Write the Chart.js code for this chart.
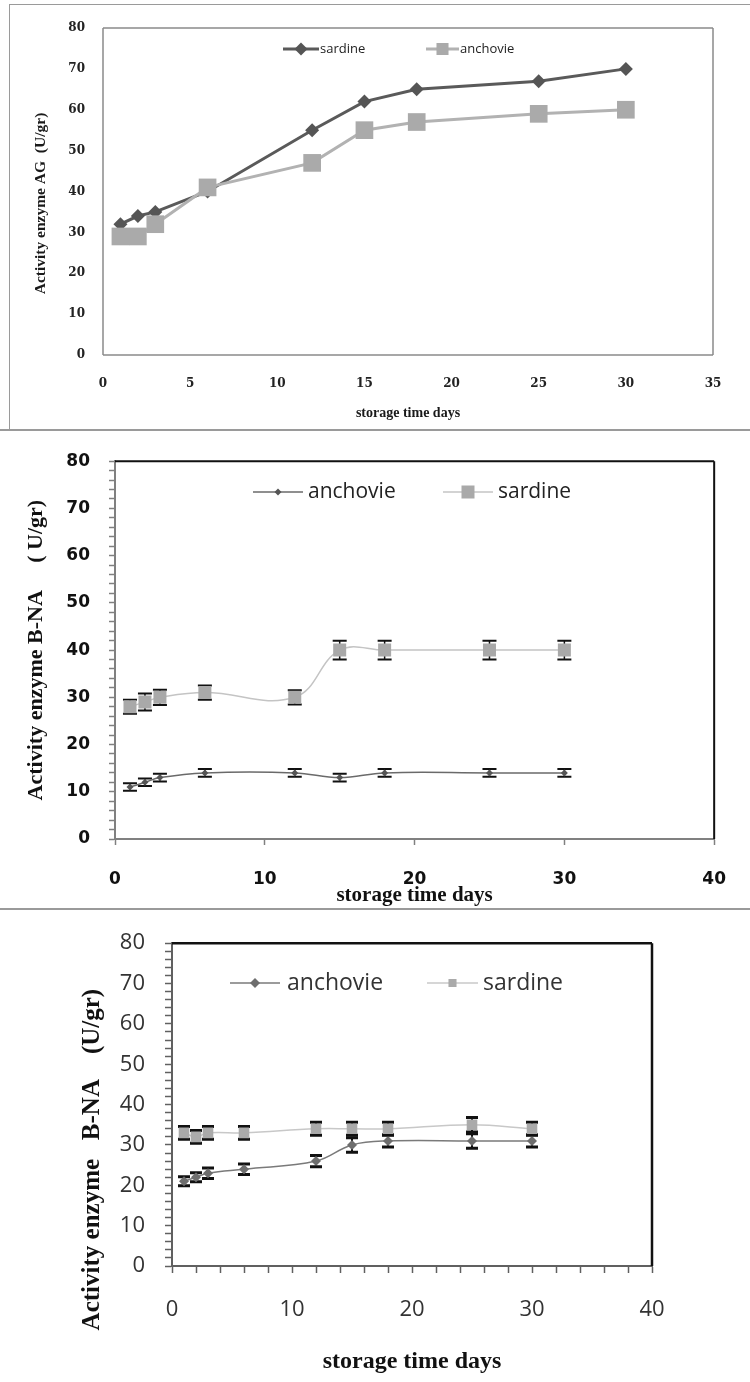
<!DOCTYPE html>
<html><head><meta charset="utf-8">
<script src="https://cdn.jsdelivr.net/npm/chart.js@4.4.1/dist/chart.umd.min.js"></script>
<style>
html,body{margin:0;padding:0;background:#fff;}
body{width:750px;height:1382px;position:relative;overflow:hidden;}
.panel{position:absolute;left:0;width:750px;}
.rule{position:absolute;background:#9a9a9a;}
</style></head><body>
<div class="panel" style="top:0;height:430px"><canvas id="c1"></canvas></div>
<div class="panel" style="top:432px;height:476px"><canvas id="c2"></canvas></div>
<div class="panel" style="top:910px;height:472px"><canvas id="c3"></canvas></div>
<div class="rule" style="left:9px;top:4px;width:741px;height:1px;"></div>
<div class="rule" style="left:9px;top:4px;width:1px;height:425px;"></div>
<div class="rule" style="left:0;top:429px;width:750px;height:2px;"></div>
<div class="rule" style="left:0;top:908px;width:750px;height:2px;"></div>
<script>
// ---------- data ----------
const days = [1, 2, 3, 6, 12, 15, 18, 25, 30];
// Chart 1: Activity enzyme AG
const agSardine  = [32, 34, 35, 40, 55, 62, 65, 67, 70];
const agAnchovie = [29, 29, 32, 41, 47, 55, 57, 59, 60];
// Chart 2: Activity enzyme B-NA
const bnaAnchovie    = [11, 12, 13, 14, 14, 13, 14, 14, 14];
const bnaAnchovieErr = [0.8, 0.8, 0.8, 0.8, 0.8, 0.8, 0.8, 0.8, 0.8];
const bnaSardine     = [28, 29, 30, 31, 30, 40, 40, 40, 40];
const bnaSardineErr  = [1.5, 1.8, 1.6, 1.5, 1.5, 2, 2, 2, 2];
// Chart 3: Activity enzyme B-NA
const bna2Anchovie    = [21, 22, 23, 24, 26, 30, 31, 31, 31];
const bna2AnchovieErr = [1.1, 1.1, 1.3, 1.3, 1.4, 1.8, 1.5, 1.8, 1.5];
const bna2Sardine     = [33, 32, 33, 33, 34, 34, 34, 35, 34];
const bna2SardineErr  = [1.6, 1.6, 1.6, 1.6, 1.6, 1.6, 1.6, 1.8, 1.6];

const pts = (ys) => days.map((d, i) => ({x: d, y: ys[i]}));

Chart.defaults.animation = false;
Chart.defaults.plugins.legend.display = false;
Chart.defaults.plugins.tooltip.enabled = false;

// ---------- plugins ----------
function marker(ctx, style, r, x, y) {
  ctx.beginPath();
  if (style === 'rectRot') {
    ctx.moveTo(x - r, y); ctx.lineTo(x, y - r); ctx.lineTo(x + r, y); ctx.lineTo(x, y + r);
  } else {
    const s = Math.SQRT1_2 * r; ctx.rect(x - s, y - s, 2 * s, 2 * s);
  }
  ctx.closePath(); ctx.fill();
}
const customLegend = {
  id: 'customLegend',
  afterDraw(chart, args, o) {
    const ctx = chart.ctx;
    o.items.forEach(it => {
      const ds = chart.data.datasets[it.dataset];
      ctx.save();
      ctx.strokeStyle = ds.borderColor; ctx.lineWidth = ds.borderWidth;
      ctx.beginPath(); ctx.moveTo(it.x0, o.y); ctx.lineTo(it.x1, o.y); ctx.stroke();
      ctx.fillStyle = ds.pointBackgroundColor;
      marker(ctx, ds.pointStyle, it.r, (it.x0 + it.x1) / 2, o.y);
      ctx.fillStyle = o.color; ctx.font = o.font; ctx.textBaseline = 'middle'; ctx.textAlign = 'left';
      ctx.fillText(ds.label, it.tx, o.y);
      ctx.restore();
    });
  }
};
const errorBars = {
  id: 'errorBars',
  beforeDatasetsDraw(chart, args, o) {
    const ctx = chart.ctx, xs = chart.scales.x, ys = chart.scales.y;
    chart.data.datasets.forEach(ds => {
      if (!ds.errors) return;
      ctx.save();
      ctx.strokeStyle = o.color;
      ds.data.forEach((p, j) => {
        const e = ds.errors[j];
        const x = xs.getPixelForValue(p.x);
        const yT = ys.getPixelForValue(p.y + e), yB = ys.getPixelForValue(p.y - e);
        ctx.lineWidth = o.width;
        ctx.beginPath(); ctx.moveTo(x, yT); ctx.lineTo(x, yB); ctx.stroke();
        ctx.lineWidth = o.capWidth;
        ctx.beginPath();
        ctx.moveTo(x - o.cap, yT); ctx.lineTo(x + o.cap, yT);
        ctx.moveTo(x - o.cap, yB); ctx.lineTo(x + o.cap, yB);
        ctx.stroke();
      });
      ctx.restore();
    });
  }
};
const frame = {
  id: 'frame',
  afterDraw(chart, args, o) {
    const ctx = chart.ctx, a = chart.chartArea;
    ctx.save(); ctx.strokeStyle = o.color; ctx.lineWidth = o.width; ctx.beginPath();
    if (o.sides.includes('top'))    { ctx.moveTo(a.left, a.top); ctx.lineTo(a.right, a.top); }
    if (o.sides.includes('right'))  { ctx.moveTo(a.right, a.top); ctx.lineTo(a.right, a.bottom); }
    if (o.sides.includes('bottom')) { ctx.moveTo(a.left, a.bottom); ctx.lineTo(a.right, a.bottom); }
    if (o.sides.includes('left'))   { ctx.moveTo(a.left, a.top); ctx.lineTo(a.left, a.bottom); }
    ctx.stroke(); ctx.restore();
  }
};
const yTitle = {
  id: 'yTitle',
  afterDraw(chart, args, o) {
    if (!o.text) return;
    const ctx = chart.ctx, a = chart.chartArea;
    ctx.save();
    ctx.translate(o.x, (a.top + a.bottom) / 2 + o.offset);
    ctx.rotate(-Math.PI / 2);
    ctx.font = o.font; ctx.fillStyle = o.color; ctx.textAlign = 'center'; ctx.textBaseline = 'middle';
    ctx.fillText(o.text, 0, 0);
    ctx.restore();
  }
};
const every10 = v => (v % 10 === 0 ? v : '');

// ---------- chart 1 ----------
new Chart(document.getElementById('c1'), {
  type: 'line',
  data: { datasets: [
    { label: 'sardine', data: pts(agSardine), order: 2,
      borderColor: '#5a5a5a', borderWidth: 3, tension: 0,
      pointStyle: 'rectRot', pointRadius: 7, pointBackgroundColor: '#555555', pointBorderWidth: 0 },
    { label: 'anchovie', data: pts(agAnchovie), order: 1,
      borderColor: '#b2b2b2', borderWidth: 3, tension: 0,
      pointStyle: 'rect', pointRadius: 12.5, pointBackgroundColor: '#aaaaaa', pointBorderWidth: 0 }
  ]},
  plugins: [customLegend, frame, yTitle],
  options: {
    responsive: true, maintainAspectRatio: false,
    layout: { padding: { left: 0, right: 37, top: 28, bottom: 0 } },
    scales: {
      x: { type: 'linear', min: 0, max: 35,
        ticks: { stepSize: 5, padding: 14, maxRotation: 0, color: '#222', font: { family: 'DejaVu Serif', weight: 'bold', size: 12 } },
        grid: { display: false }, border: { display: false },
        title: { display: true, text: 'storage time days', color: '#1a1a1a', padding: { top: 0, bottom: 8 },
          font: { family: 'Liberation Serif', weight: 'bold', size: 14 } },
        afterFit: s => { s.height = 75; } },
      y: { min: 0, max: 80,
        ticks: { stepSize: 10, padding: 10, color: '#222', font: { family: 'DejaVu Serif', weight: 'bold', size: 12 } },
        grid: { display: false }, border: { display: false },
        afterFit: s => { s.width = 103; } }
    },
    plugins: {
      frame: { color: '#8a8a8a', width: 1.5, sides: ['top', 'right', 'bottom', 'left'] },
      yTitle: { text: 'Activity enzyme AG  (U/gr)', x: 41, offset: 12, color: '#1a1a1a',
        font: 'bold 15.5px "Liberation Serif"' },
      customLegend: { y: 49, color: '#222', font: '13px "Open Sans"', items: [
        { dataset: 0, x0: 283, x1: 319, r: 6.5, tx: 320 },
        { dataset: 1, x0: 426, x1: 459, r: 8.5, tx: 460 } ] }
    }
  }
});

// ---------- chart 2 ----------
new Chart(document.getElementById('c2'), {
  type: 'line',
  data: { datasets: [
    { label: 'anchovie', data: pts(bnaAnchovie), errors: bnaAnchovieErr, order: 1,
      borderColor: '#6a6a6a', borderWidth: 1.5, tension: 0.4,
      pointStyle: 'rectRot', pointRadius: 3.5, pointBackgroundColor: '#555555', pointBorderWidth: 0 },
    { label: 'sardine', data: pts(bnaSardine), errors: bnaSardineErr, order: 2,
      borderColor: '#c4c4c4', borderWidth: 1.5, tension: 0.4,
      pointStyle: 'rect', pointRadius: 9.2, pointBackgroundColor: '#a9a9a9', pointBorderWidth: 0 }
  ]},
  plugins: [customLegend, frame, errorBars],
  options: {
    responsive: true, maintainAspectRatio: false,
    layout: { padding: { left: 0, right: 24, top: 25, bottom: 0 } },
    scales: {
      x: { type: 'linear', min: 0, max: 40,
        ticks: { stepSize: 10, padding: 24, maxRotation: 0, color: '#111', font: { family: 'DejaVu Sans', weight: 'bold', size: 17 } },
        grid: { display: true, drawOnChartArea: false, drawTicks: true, tickLength: 6, tickColor: '#808080', tickWidth: 1.5 },
        border: { display: true, color: '#808080', width: 2 },
        title: { display: true, text: 'storage time days', color: '#111', padding: { top: 0, bottom: 0 },
          font: { family: 'Liberation Serif', weight: 'bold', size: 21 } },
        afterFit: s => { s.height = 69; } },
      y: { min: 0, max: 80,
        ticks: { stepSize: 2, autoSkip: false, callback: every10, padding: 19, color: '#111',
          font: { family: 'DejaVu Sans', weight: 'bold', size: 17 } },
        grid: { display: true, drawOnChartArea: false, drawTicks: true, tickLength: 6, tickColor: '#808080', tickWidth: 1.5 },
        border: { display: true, color: '#808080', width: 2 },
        title: { display: true, text: 'Activity enzyme B-NA     ( U/gr)', color: '#111', padding: { top: 23, bottom: 0 },
          font: { family: 'Liberation Serif', weight: 'bold', size: 22 } },
        afterFit: s => { s.width = 115; } }
    },
    plugins: {
      frame: { color: '#111', width: 2, sides: ['top', 'right'] },
      errorBars: { color: '#111', width: 1.5, capWidth: 2, cap: 7 },
      customLegend: { y: 60, color: '#222', font: '21px "Open Sans"', items: [
        { dataset: 0, x0: 253, x1: 303, r: 3.5, tx: 308 },
        { dataset: 1, x0: 443, x1: 493, r: 9.2, tx: 498 } ] }
    }
  }
});

// ---------- chart 3 ----------
new Chart(document.getElementById('c3'), {
  type: 'line',
  data: { datasets: [
    { label: 'anchovie', data: pts(bna2Anchovie), errors: bna2AnchovieErr, order: 1,
      borderColor: '#7a7a7a', borderWidth: 1.5, tension: 0.4,
      pointStyle: 'rectRot', pointRadius: 5, pointBackgroundColor: '#6e6e6e', pointBorderWidth: 0 },
    { label: 'sardine', data: pts(bna2Sardine), errors: bna2SardineErr, order: 2,
      borderColor: '#c8c8c8', borderWidth: 1.5, tension: 0.4,
      pointStyle: 'rect', pointRadius: 7.5, pointBackgroundColor: '#aaaaaa', pointBorderWidth: 0 }
  ]},
  plugins: [customLegend, frame, errorBars, yTitle],
  options: {
    responsive: true, maintainAspectRatio: false,
    layout: { padding: { left: 0, right: 98, top: 31, bottom: 0 } },
    scales: {
      x: { type: 'linear', min: 0, max: 40,
        ticks: { stepSize: 2, autoSkip: false, maxRotation: 0, minRotation: 0, callback: every10, padding: 23.8, color: '#333',
          font: { family: 'Open Sans', size: 22 } },
        grid: { display: true, drawOnChartArea: false, drawTicks: true, tickLength: 7, tickColor: '#606060', tickWidth: 1.5 },
        border: { display: true, color: '#606060', width: 2 },
        title: { display: true, text: 'storage time days', color: '#111', padding: { top: 0, bottom: 6.2 },
          font: { family: 'Liberation Serif', weight: 'bold', size: 24 } },
        afterFit: s => { s.height = 116; } },
      y: { min: 0, max: 80,
        ticks: { stepSize: 2, autoSkip: false, callback: every10, padding: 20, color: '#333',
          font: { family: 'Open Sans', size: 22 } },
        grid: { display: true, drawOnChartArea: false, drawTicks: true, tickLength: 7, tickColor: '#606060', tickWidth: 1.5 },
        border: { display: true, color: '#606060', width: 2 },
        afterFit: s => { s.width = 172; } }
    },
    plugins: {
      frame: { color: '#111', width: 2.5, sides: ['top', 'right'] },
      errorBars: { color: '#111', width: 2, capWidth: 3, cap: 6 },
      yTitle: { text: 'Activity enzyme   B-NA    (U/gr)', x: 93, offset: 55, color: '#111',
        font: 'bold 25px "Liberation Serif"' },
      customLegend: { y: 73, color: '#333', font: '23px "Open Sans"', items: [
        { dataset: 0, x0: 230, x1: 280, r: 5, tx: 287 },
        { dataset: 1, x0: 427, x1: 478, r: 5.7, tx: 483 } ] }
    }
  }
});
</script>
</body></html>
